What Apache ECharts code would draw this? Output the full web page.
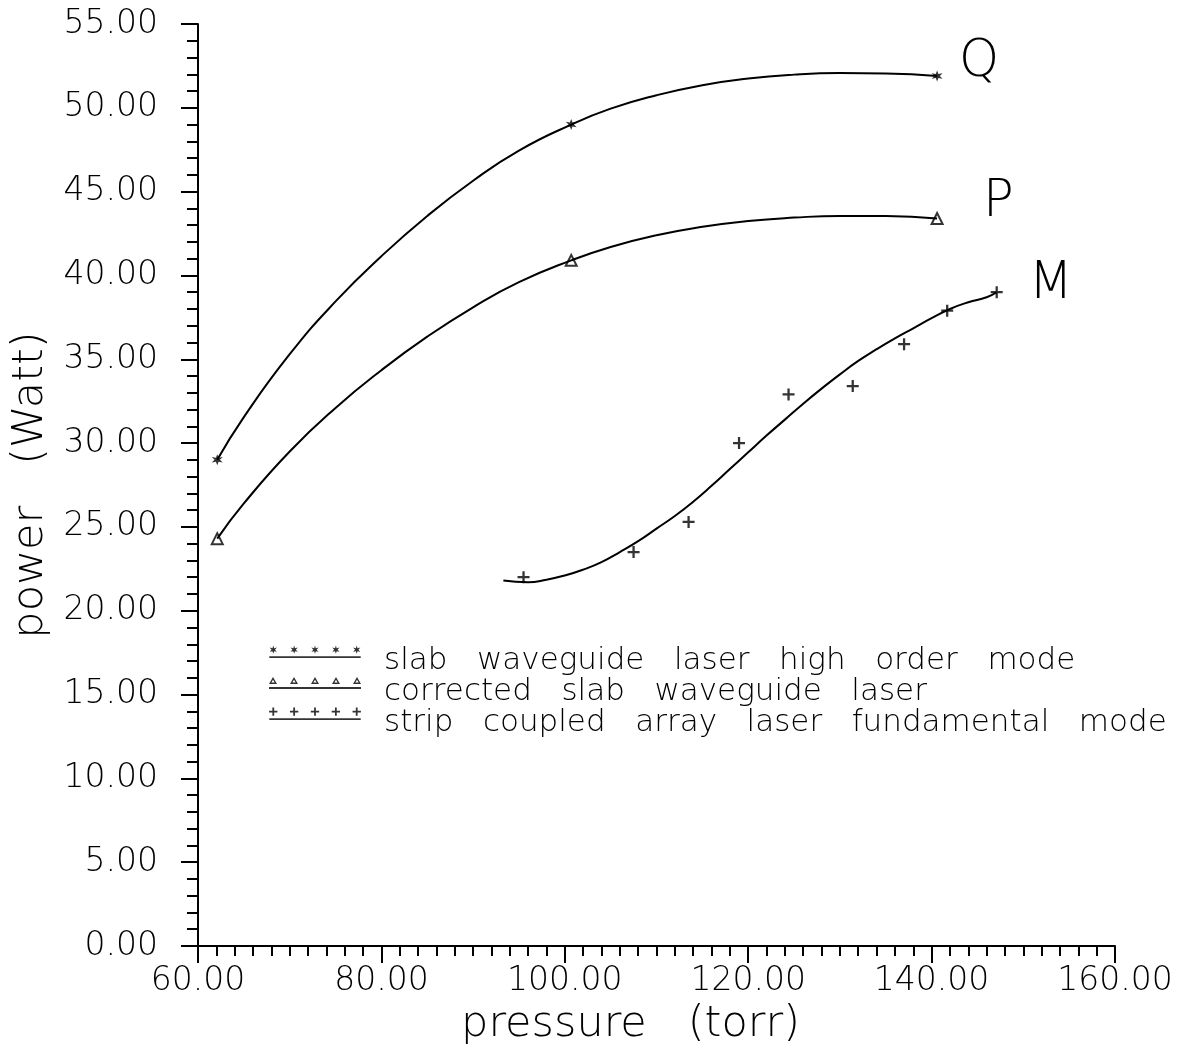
<!DOCTYPE html>
<html><head><meta charset="utf-8">
<script src="https://cdn.jsdelivr.net/npm/echarts@6/dist/echarts.min.js"></script>
<style>html,body{margin:0;padding:0;background:#fff}#c{width:1188px;height:1051px}</style>
</head><body><div id="c"></div>
<script>
// ---- data ----
const xTicks = [60, 80, 100, 120, 140, 160];
const yTicks = [0, 5, 10, 15, 20, 25, 30, 35, 40, 45, 50, 55];

const qPointsX = [62.1, 100.7, 140.6];
const qPointsY = [29.0, 49.0, 51.9];
const pPointsX = [62.1, 100.7, 140.6];
const pPointsY = [24.3, 40.9, 43.4];
const mPointsX = [95.5, 107.5, 113.5, 119.0, 124.4, 131.4, 137.0, 141.7, 147.1];
const mPointsY = [22.0, 23.5, 25.3, 30.0, 32.9, 33.4, 35.9, 37.9, 39.0];

// fitted curves
const qCurveX = [62.1, 65, 70, 75, 80, 85, 90, 95, 100.7, 105, 110, 115, 120, 125, 130, 135, 140.6];
const qCurveY = [29.0, 31.55, 35.3, 38.45, 41.15, 43.55, 45.65, 47.45, 49.0, 49.95, 50.75, 51.35, 51.75, 51.98, 52.07, 52.05, 51.9];
const pCurveX = [62.1, 65, 70, 75, 80, 85, 90, 95, 100.7, 105, 110, 115, 120, 125, 130, 135, 140.6];
const pCurveY = [24.3, 26.4, 29.5, 32.1, 34.35, 36.35, 38.1, 39.6, 40.9, 41.7, 42.4, 42.9, 43.25, 43.45, 43.55, 43.55, 43.4];
const mCurveX = [93.3, 96, 98, 100, 102, 104, 106, 108, 110, 112, 114, 116, 118, 120, 122, 124, 126, 128, 130, 132, 134, 136, 138, 140, 142, 144, 146, 147.1];
const mCurveY = [21.8, 21.7, 21.85, 22.1, 22.45, 22.9, 23.5, 24.15, 24.9, 25.65, 26.5, 27.45, 28.45, 29.45, 30.45, 31.4, 32.35, 33.25, 34.1, 34.9, 35.6, 36.25, 36.85, 37.45, 38.0, 38.4, 38.7, 39.0];

const seriesNames = [
  'slab   waveguide   laser   high   order   mode',
  'corrected   slab   waveguide   laser',
  'strip   coupled   array   laser   fundamental   mode'
];
const curveLabels = ['Q', 'P', 'M'];
const xName = 'pressure   (torr)';
const yName = 'power   (Watt)';

// ---- symbol shapes ----
const FONT = 'DejaVu Sans';
const W = 200;
function starPath(cx, cy, ro, ri) {
  let s = '';
  for (let k = 0; k < 12; k++) {
    const a = (90 - k * 30) * Math.PI / 180;
    const r = k % 2 === 0 ? ro : ri;
    const x = cx + r * Math.cos(a), y = cy - r * Math.sin(a);
    s += (k === 0 ? 'M' : 'L') + x.toFixed(2) + ',' + y.toFixed(2);
  }
  return s + 'Z';
}
function plusPath(cx, cy, h, w) {
  return 'M' + (cx - w) + ',' + (cy - h) + 'L' + (cx + w) + ',' + (cy - h) + 'L' + (cx + w) + ',' + (cy - w) +
    'L' + (cx + h) + ',' + (cy - w) + 'L' + (cx + h) + ',' + (cy + w) + 'L' + (cx + w) + ',' + (cy + w) +
    'L' + (cx + w) + ',' + (cy + h) + 'L' + (cx - w) + ',' + (cy + h) + 'L' + (cx - w) + ',' + (cy + w) +
    'L' + (cx - h) + ',' + (cy + w) + 'L' + (cx - h) + ',' + (cy - w) + 'L' + (cx - w) + ',' + (cy - w) + 'Z';
}
function triPath(cx, top, s, t) {
  const h = s * 0.86;
  const outer = 'M' + (cx - s / 2) + ',' + (top + h) + 'L' + cx + ',' + top + 'L' + (cx + s / 2) + ',' + (top + h) + 'Z';
  const inner = 'M' + (cx - s / 2 + t * 1.7) + ',' + (top + h - t) + 'L' + (cx + s / 2 - t * 1.7) + ',' + (top + h - t) +
    'L' + cx + ',' + (top + t * 2) + 'Z';
  return outer + inner;
}
const IW = 92, IH = 30;
const mk = [4, 25, 46, 67, 88];
function legendIcon(fn) {
  let s = 'path://M0,0M' + IW + ',' + IH;
  mk.forEach(cx => { s += fn(cx); });
  s += 'M0,10.5L' + IW + ',10.5L' + IW + ',12.5L0,12.5Z';
  return s;
}
const iconQ = legendIcon(cx => starPath(cx, 4, 4.2, 1.7));
const iconP = legendIcon(cx => triPath(cx, 0.5, 8, 1.4));
const iconM = legendIcon(cx => plusPath(cx, 4, 4.2, 0.9));

const symStar = 'path://' + starPath(0, 0, 5, 2.1);
const symPlus = 'path://' + plusPath(0, 0, 5, 0.95);

const zip = (xs, ys) => xs.map((x, i) => [x, ys[i]]);

function curve(name, xs, ys, label, dist, dy) {
  return {
    name, type: 'line', data: zip(xs, ys), showSymbol: false, symbol: 'none',
    smooth: 0.5, lineStyle: { color: '#000', width: 2 }, silent: true,
    endLabel: { show: true, formatter: label, color: '#000', fontSize: 51, fontFamily: FONT, fontWeight: W,
      distance: dist, offset: [0, dy] }
  };
}

const option = {
  animation: false,
  backgroundColor: '#fff',
  grid: { left: 198, right: 73, top: 24, bottom: 105, containLabel: false },
  xAxis: {
    type: 'value', min: 60, max: 160, interval: 20,
    name: xName, nameLocation: 'middle', nameGap: 50,
    nameTextStyle: { fontSize: 43, fontFamily: FONT, fontWeight: W, color: '#000', padding: [0, 52, 0, 0] },
    axisLine: { show: true, lineStyle: { color: '#000', width: 2 } },
    axisTick: { show: true, length: 17, lineStyle: { color: '#000', width: 2 } },
    minorTick: { show: true, splitNumber: 10, length: 10, lineStyle: { color: '#000', width: 2 } },
    splitLine: { show: false },
    axisLabel: { margin: 19, fontSize: 33, fontFamily: FONT, fontWeight: W, color: '#000',
      formatter: v => xTicks.includes(v) ? v.toFixed(2) : '' }
  },
  yAxis: {
    type: 'value', min: 0, max: 55, interval: 5,
    name: yName, nameLocation: 'middle', nameGap: 140, nameRotate: 90,
    nameTextStyle: { fontSize: 43, fontFamily: FONT, fontWeight: W, color: '#000' },
    axisLine: { show: true, lineStyle: { color: '#000', width: 2 } },
    axisTick: { show: true, length: 17, lineStyle: { color: '#000', width: 2 } },
    minorTick: { show: true, splitNumber: 5, length: 11, lineStyle: { color: '#000', width: 2 } },
    splitLine: { show: false },
    axisLabel: { margin: 40, fontSize: 33, fontFamily: FONT, fontWeight: W, color: '#000',
      formatter: v => yTicks.includes(v) ? v.toFixed(2) : '' }
  },
  legend: {
    orient: 'vertical', left: 269, top: 645, padding: 0, itemGap: 0,
    itemWidth: IW, itemHeight: IH, selectedMode: false,
    textStyle: { fontSize: 31, fontFamily: FONT, fontWeight: W, color: '#000', lineHeight: 30, padding: [0, 0, 0, 18] },
    data: [
      { name: seriesNames[0], icon: iconQ, itemStyle: { color: '#000', borderWidth: 0 } },
      { name: seriesNames[1], icon: iconP, itemStyle: { color: '#000', borderWidth: 0 } },
      { name: seriesNames[2], icon: iconM, itemStyle: { color: '#000', borderWidth: 0 } }
    ]
  },
  series: [
    curve('Q fit', qCurveX, qCurveY, curveLabels[0], 22, -13),
    curve('P fit', pCurveX, pCurveY, curveLabels[1], 46, -16),
    curve('M fit', mCurveX, mCurveY, curveLabels[2], 32, -7),
    { name: seriesNames[0], type: 'scatter', data: zip(qPointsX, qPointsY), symbol: symStar, symbolSize: 11,
      itemStyle: { color: '#000' } },
    { name: seriesNames[1], type: 'scatter', data: zip(pPointsX, pPointsY), symbol: 'triangle', symbolSize: 11,
      itemStyle: { color: '#fff', borderColor: '#000', borderWidth: 2 } },
    { name: seriesNames[2], type: 'scatter', data: zip(mPointsX, mPointsY), symbol: symPlus, symbolSize: 12,
      itemStyle: { color: '#000' } }
  ]
};
const chart = echarts.init(document.getElementById('c'), null, { renderer: 'canvas' });
chart.setOption(option);
</script>
</body></html>
